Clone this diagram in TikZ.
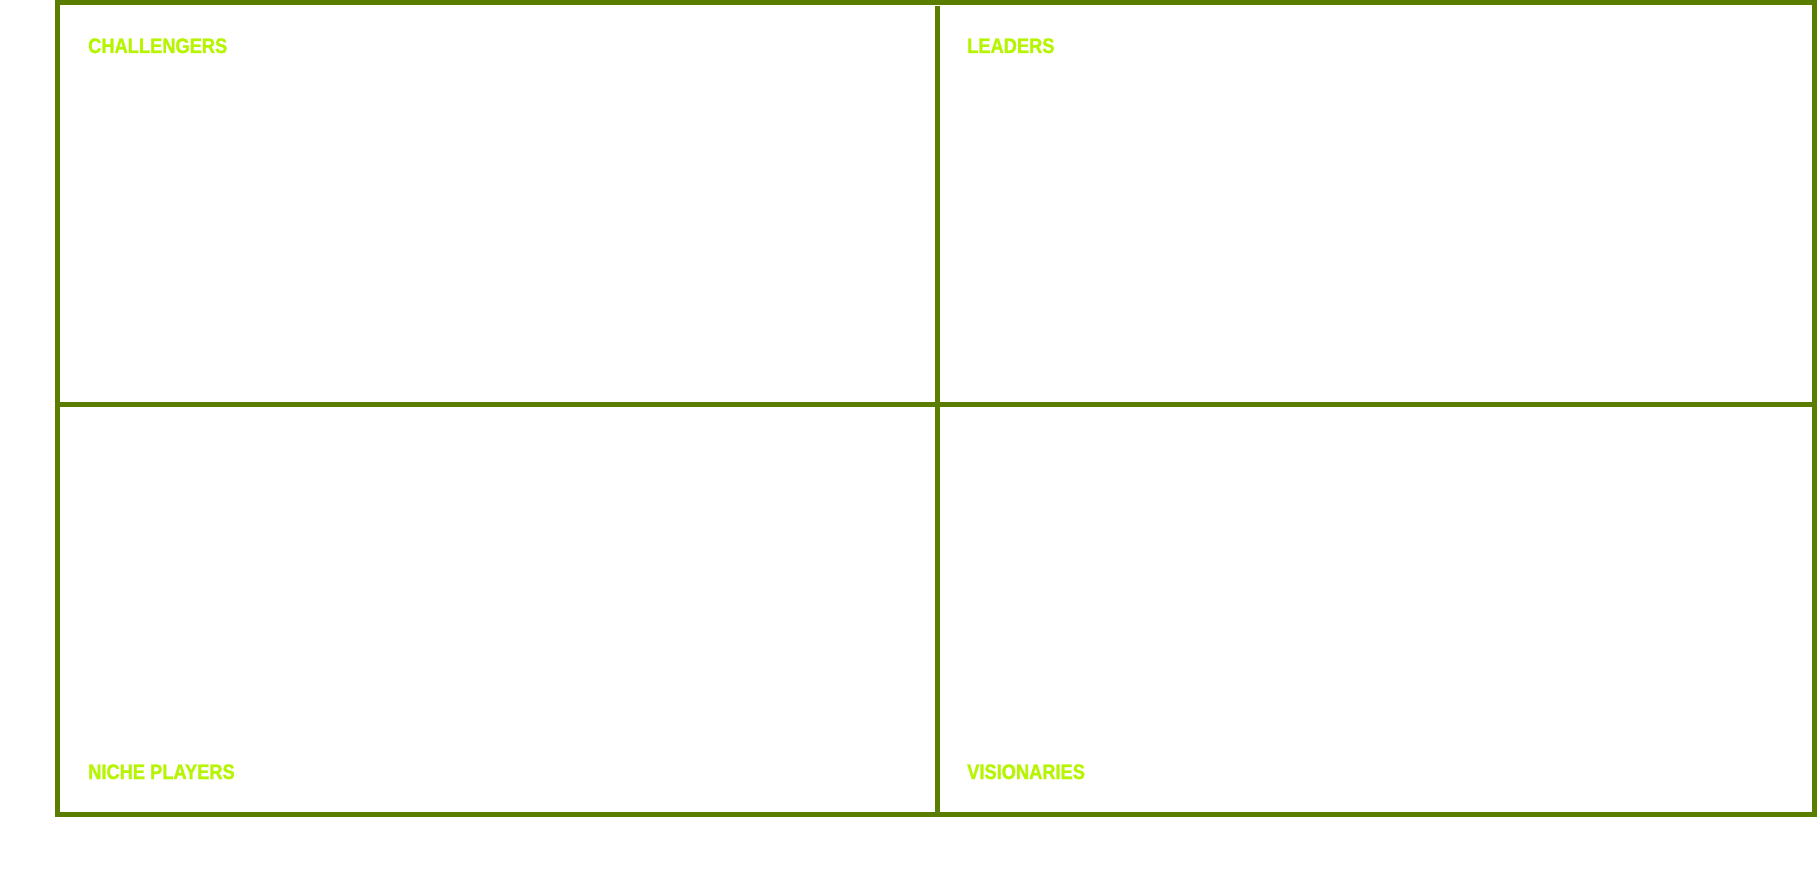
\documentclass[tikz,border=0pt]{standalone}
\usepackage{fontspec}
\newfontfamily\labfont[FakeStretch=0.87,FakeBold=1.2]{Liberation Sans Bold}
\definecolor{gridgreen}{HTML}{5A7D00}
\definecolor{labellime}{HTML}{B6F500}
\begin{document}
\begin{tikzpicture}[x=1pt,y=-1pt,
  gridline/.style={draw=gridgreen,line width=5pt},
  quadlabel/.style={anchor=base west,inner sep=0pt,text=labellime,font=\labfont\fontsize{21}{21}\selectfont}]
\useasboundingbox[fill=white] (0,0) rectangle (1817,874);
\coordinate (tl) at (57.5,2.5);
\coordinate (br) at (1814.5,814.5);
\coordinate (vtop) at (937.5,6);
\coordinate (vbot) at (937.5,812);
\coordinate (hl) at (60,404.5);
\coordinate (hr) at (1812,404.5);
\draw[gridline] (tl) rectangle (br);
\draw[gridline] (vtop) -- (vbot);
\draw[gridline] (hl) -- (hr);
\node[quadlabel] (challengers) at (88,53) {CHALLENGERS};
\node[quadlabel] (leaders) at (967,53) {LEADERS};
\node[quadlabel] (niche) at (88,779) {NICHE PLAYERS};
\node[quadlabel] (visionaries) at (967,779) {VISIONARIES};
\end{tikzpicture}
\end{document}
